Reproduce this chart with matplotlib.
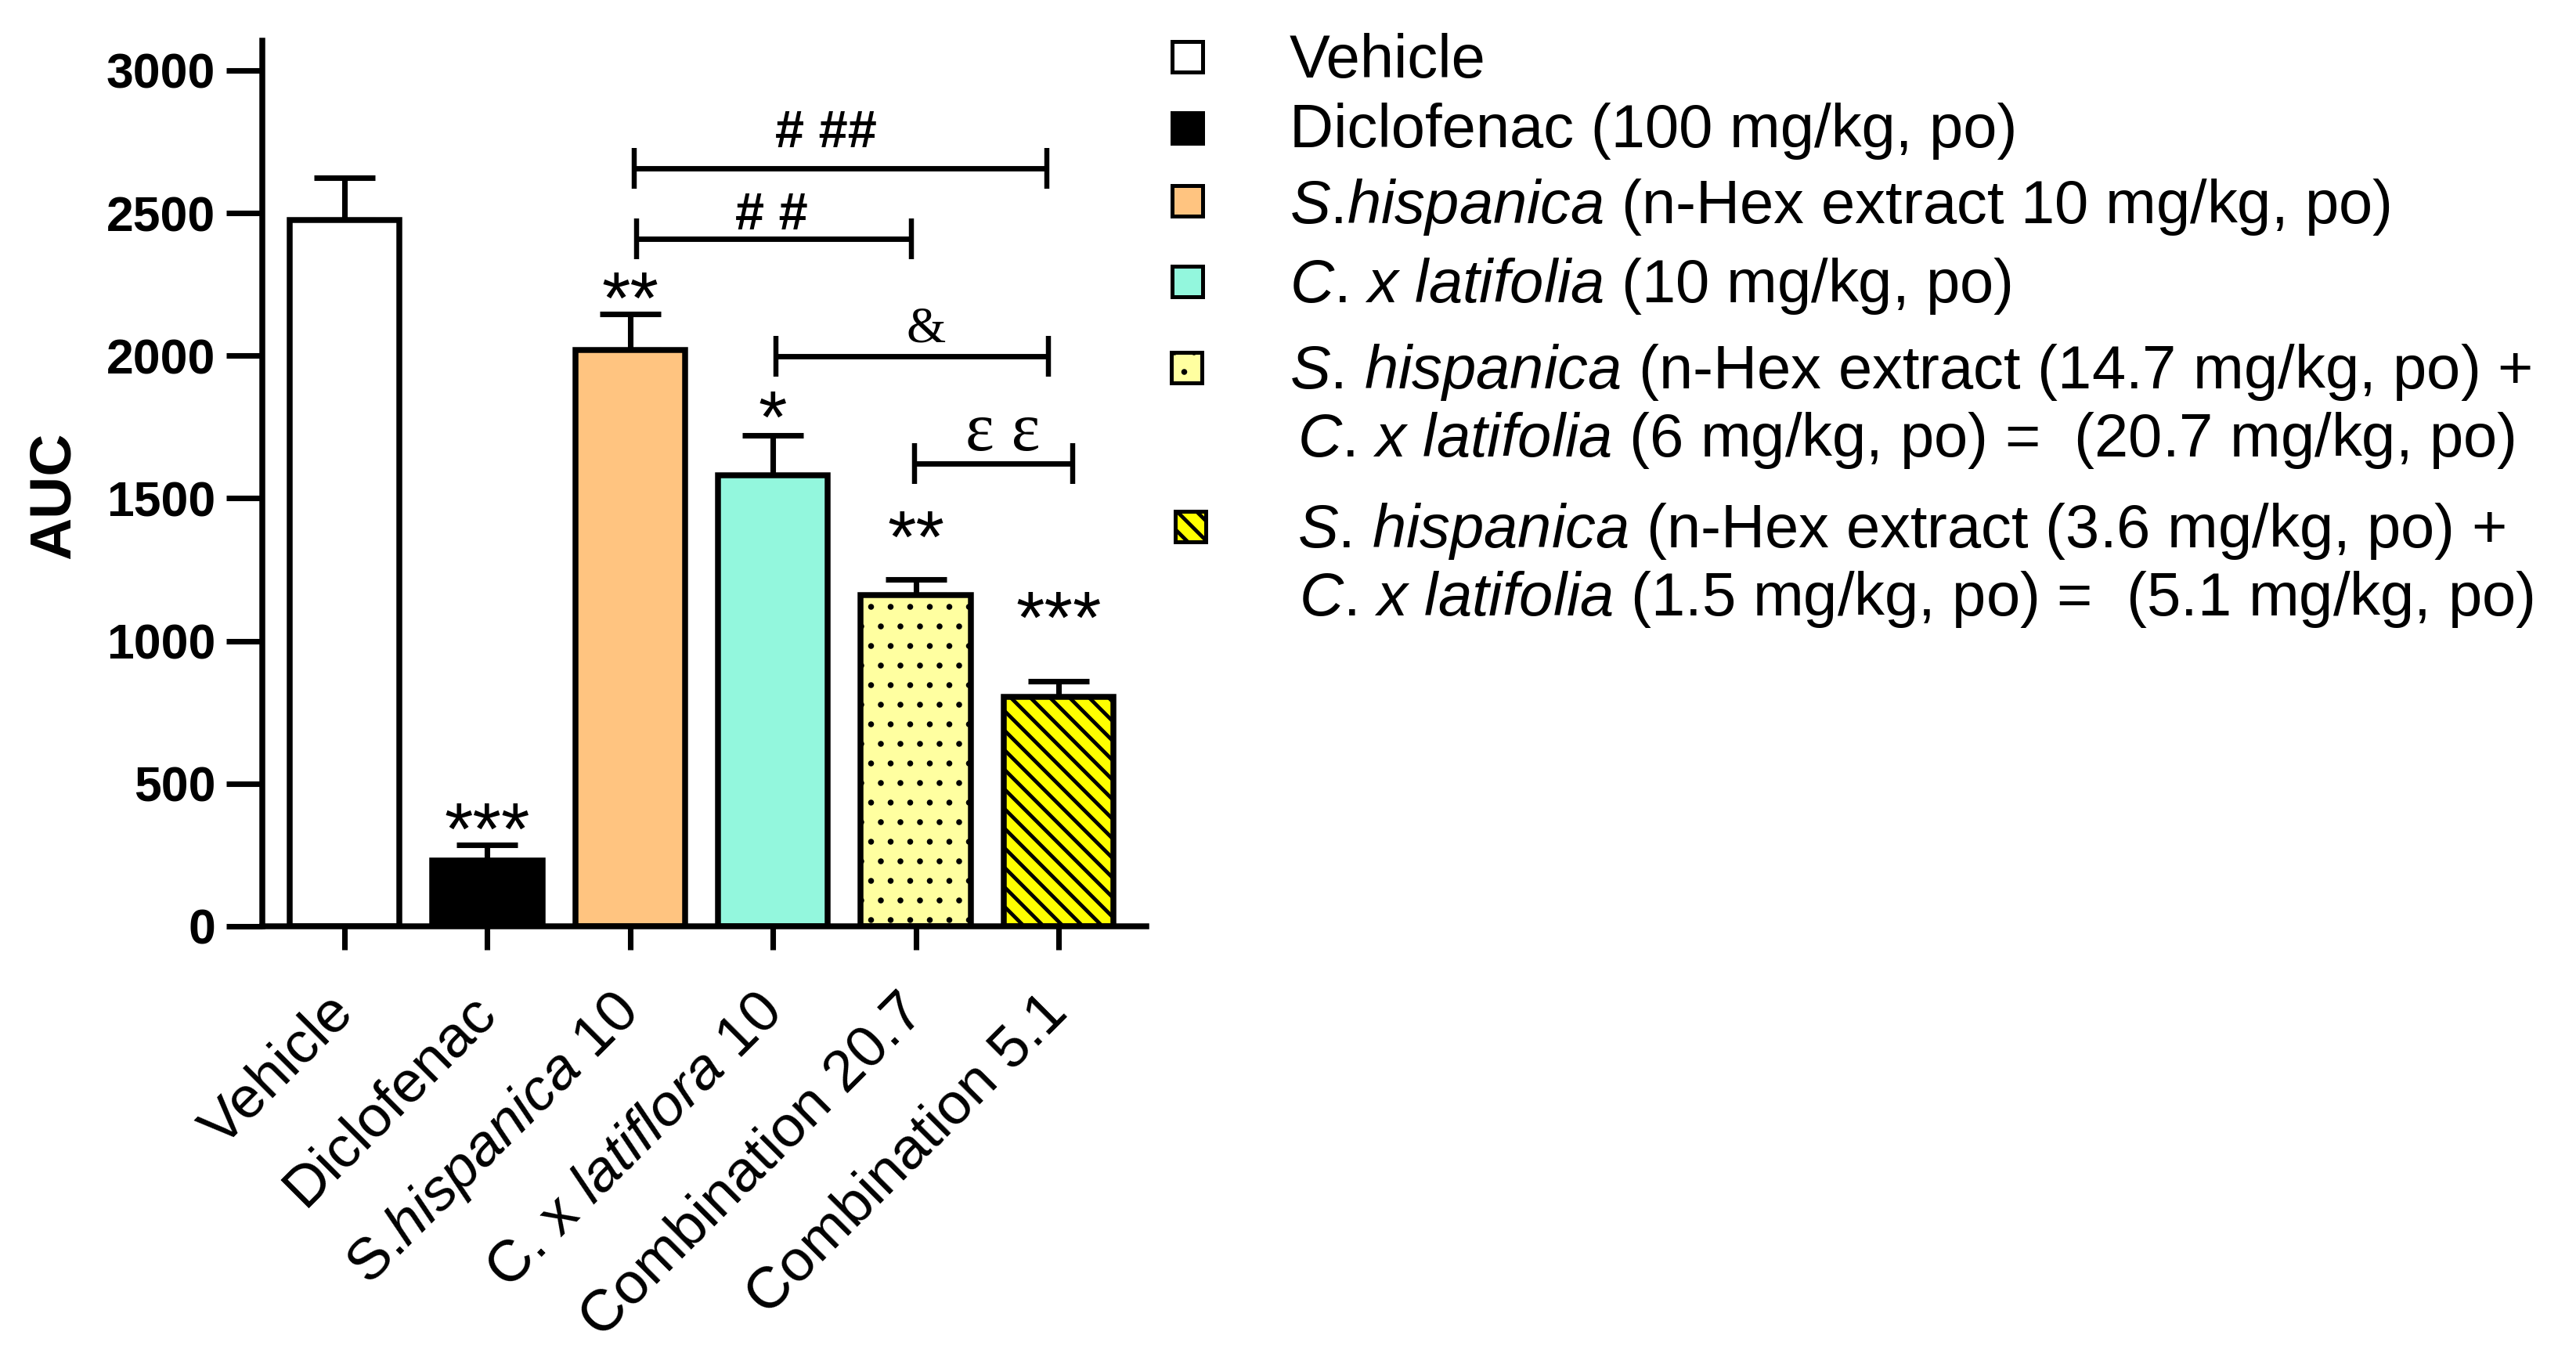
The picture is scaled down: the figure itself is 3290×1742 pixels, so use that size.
import numpy as np
import matplotlib.pyplot as plt
from matplotlib.patches import Rectangle

plt.rcParams['font.family'] = ['Liberation Sans', 'DejaVu Sans']
plt.rcParams['mathtext.fontset'] = 'custom'
plt.rcParams['mathtext.rm'] = 'Liberation Sans'
plt.rcParams['mathtext.it'] = 'Liberation Sans:italic'
plt.rcParams['mathtext.bf'] = 'Liberation Sans:bold'
plt.rcParams['hatch.linewidth'] = 2.3

# ---- data ----
groups = ['Vehicle', 'Diclofenac', r'S.$\mathit{hispanica}$ 10',
          r'C. x $\mathit{latiflora}$ 10', 'Combination 20.7', 'Combination 5.1']
auc_mean = [2475, 230, 2020, 1580, 1160, 805]
auc_sem = [150, 55, 125, 140, 55, 55]
colors = ['white', 'black', '#FFC480', '#93F7DD', '#FFFFA0', '#FFFF00']
hatches = ['', '', '', '', '.', '\\\\']

# significance vs vehicle (baseline height in AUC units)
stars = ['', '***', '**', '*', '**', '***']
star_y = [0, 254, 2115, 1698, 1278, 995]

# comparison brackets: start, end, height, label, label x, label baseline
br_start = [2.03, 2.045, 3.02, 3.99]
br_end = [4.92, 3.97, 4.93, 5.10]
br_y = [2657, 2409, 1999, 1622]
br_label = ['# ##', '# #', '&', 'ε ε']
br_label_x = [3.37, 2.99, 4.07, 4.61]
br_label_y = [2731, 2443, 2048, 1669]
br_font = [dict(family='Liberation Sans', weight='bold', size=32),
           dict(family='Liberation Sans', weight='bold', size=32),
           dict(family='Liberation Serif', size=31),
           dict(family='Liberation Serif', size=42)]

legend_text = [
    'Vehicle',
    'Diclofenac (100 mg/kg, po)',
    r'$\mathit{S}$.$\mathit{hispanica}$ (n-Hex extract 10 mg/kg, po)',
    r'$\mathit{C}$. $\mathit{x\ latifolia}$ (10 mg/kg, po)',
    r'$\mathit{S}$. $\mathit{hispanica}$ (n-Hex extract (14.7 mg/kg, po) +',
    r'$\mathit{C}$. $\mathit{x\ latifolia}$ (6 mg/kg, po) =  (20.7 mg/kg, po)',
    r'$\mathit{S}$. $\mathit{hispanica}$ (n-Hex extract (3.6 mg/kg, po) +',
    r'$\mathit{C}$. $\mathit{x\ latifolia}$ (1.5 mg/kg, po) =  (5.1 mg/kg, po)',
]
# which bar each legend line belongs to (None = continuation line)
legend_owner = [0, 1, 2, 3, 4, None, 5, None]

# ---- layout ----
DPI = 150
fig = plt.figure(figsize=(3290 / DPI, 1742 / DPI), dpi=DPI)
ax = fig.add_axes([0.1018, 0.3209, 0.3432, 0.6492])

x = np.arange(len(groups))
bars = ax.bar(x, auc_mean, width=0.77, color=colors, edgecolor='black',
              linewidth=3.6, zorder=2)
for b, h in zip(bars, hatches):
    if h:
        b.set_hatch(h)
        if hasattr(b, 'set_hatch_linewidth'):
            b.set_hatch_linewidth(1.2 if h == '.' else 2.3)

ax.errorbar(x, auc_mean, yerr=[np.zeros(len(x)), auc_sem], fmt='none',
            ecolor='black', elinewidth=3.4, capsize=18.7, capthick=3.4,
            zorder=1)

for xi, s, sy in zip(x, stars, star_y):
    if s:
        ax.text(xi, sy, s, ha='center', va='baseline', fontsize=45)

for x0, x1, y, lab, lx, ly, fp in zip(br_start, br_end, br_y, br_label,
                                       br_label_x, br_label_y, br_font):
    ax.plot([x0, x1], [y, y], color='black', lw=3.3, solid_capstyle='butt')
    ax.vlines([x0, x1], y - 71, y + 71, color='black', lw=3.1)
    ax.text(lx, ly, lab, ha='center', va='baseline', fontfamily=fp['family'],
            fontweight=fp.get('weight', 'normal'), fontsize=fp['size'])

ax.set_xlim(-0.576, 5.614)
ax.set_ylim(0, 3104)
ax.set_yticks(np.arange(0, 3001, 500))
ax.set_xticks(x)
ax.set_xticklabels(groups, rotation=45, ha='right', va='center',
                   rotation_mode='anchor', fontsize=36)
for lab in ax.get_yticklabels():
    lab.set_fontweight('bold')
    lab.set_fontsize(30)

for side in ['top', 'right']:
    ax.spines[side].set_visible(False)
for side in ['left', 'bottom']:
    ax.spines[side].set_linewidth(3.6)
ax.tick_params(axis='y', length=22, width=3.4, pad=6.7)
ax.tick_params(axis='x', length=14.4, width=3.4, pad=33)

fig.text(0.021, 0.637, 'AUC', rotation=90, ha='center', va='center',
         fontsize=36, fontweight='bold')

# ---- legend drawn by hand (two-line entries, first-line markers) ----
text_x = [0.5006, 0.5006, 0.5006, 0.5006, 0.5006, 0.5036, 0.5036, 0.5042]
text_y = [0.9432, 0.8921, 0.8364, 0.7784, 0.7153, 0.6653, 0.5987, 0.5488]
mark_x = [0.4608, 0.4608, 0.4608, 0.4608, 0.4605, None, 0.4623, None]
mark_y = [0.9581, 0.9059, 0.8530, 0.7939, 0.7302, None, 0.6142, None]
mw, mh = 39 / 3290, 39 / 1742

for i, txt in enumerate(legend_text):
    fig.text(text_x[i], text_y[i], txt, ha='left', va='baseline', fontsize=37.3)
    k = legend_owner[i]
    if k is not None:
        r = Rectangle((mark_x[i] - mw / 2, mark_y[i] - mh / 2), mw, mh,
                      transform=fig.transFigure, facecolor=colors[k],
                      edgecolor='black', linewidth=2.4, hatch=hatches[k] or None)
        if hatches[k] and hasattr(r, 'set_hatch_linewidth'):
            r.set_hatch_linewidth(1.2 if hatches[k] == '.' else 2.3)
        fig.add_artist(r)

fig.savefig('out.png', dpi=DPI)
